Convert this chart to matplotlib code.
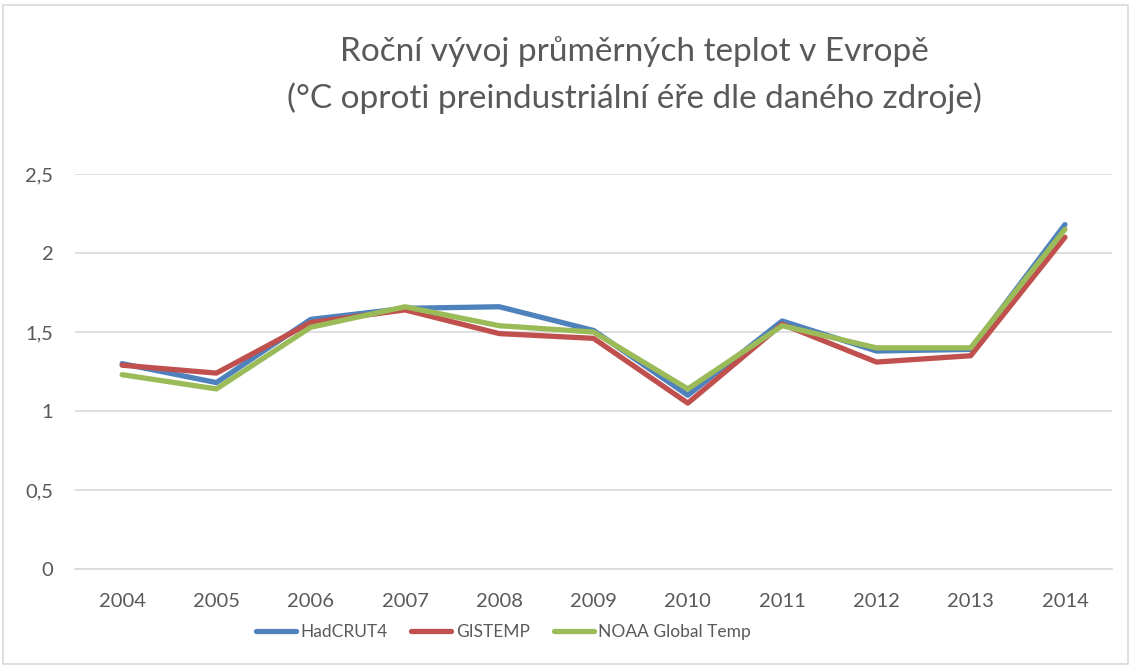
import matplotlib.pyplot as plt
from matplotlib.ticker import FuncFormatter
from matplotlib.patches import Rectangle
import numpy as np

plt.rcParams['font.family'] = ['Lato', 'DejaVu Sans']

years = ['2004', '2005', '2006', '2007', '2008', '2009', '2010', '2011', '2012', '2013', '2014']
hadcrut4 = [1.30, 1.18, 1.58, 1.65, 1.66, 1.51, 1.10, 1.57, 1.38, 1.39, 2.18]
gistemp = [1.29, 1.24, 1.56, 1.64, 1.49, 1.46, 1.05, 1.55, 1.31, 1.35, 2.10]
noaa = [1.23, 1.14, 1.53, 1.66, 1.54, 1.50, 1.14, 1.54, 1.40, 1.40, 2.15]

x = np.arange(len(years))
grey = '#595959'

fig = plt.figure(figsize=(11.31, 6.66), dpi=100)
ax = fig.add_axes([0.0663, 0.1456, 0.917, 0.5931])

ax.plot(x, hadcrut4, color='#4F81BD', lw=3.8, solid_capstyle='round', label='HadCRUT4')
ax.plot(x, gistemp, color='#C0504D', lw=3.8, solid_capstyle='round', label='GISTEMP')
ax.plot(x, noaa, color='#9BBB59', lw=3.8, solid_capstyle='round', label='NOAA Global Temp')

ax.set_xlim(-0.5, len(years) - 0.5)
ax.set_ylim(0, 2.5)
ax.set_yticks(np.arange(0, 2.51, 0.5))
ax.yaxis.set_major_formatter(FuncFormatter(lambda v, p: ('%g' % v).replace('.', ',')))
ax.set_xticks(x)
ax.set_xticklabels(years)
ax.grid(axis='y', color='#d9d9d9', lw=1.2)
ax.set_axisbelow(True)
for s in ['top', 'right', 'left']:
    ax.spines[s].set_visible(False)
ax.spines['bottom'].set_color('#d9d9d9')
ax.spines['bottom'].set_linewidth(1.2)
ax.tick_params(length=0, labelsize=14.5, labelcolor=grey)
ax.tick_params(axis='x', pad=17)
ax.tick_params(axis='y', pad=15.5)

fig.text(0.561, 0.922, 'Roční vývoj průměrných teplot v Evropě', ha='center', va='center',
         fontsize=24, color=grey)
fig.text(0.561, 0.853, '(°C oproti preindustriální éře dle daného zdroje)', ha='center', va='center',
         fontsize=24, color=grey)

# legend below the plot, slightly left of centre as in the original
leg = ax.legend(loc='center', bbox_to_anchor=(0.413, -0.16), ncol=3, frameon=False,
                fontsize=12.5, handlelength=2.3, handletextpad=0.25, columnspacing=1.4)
for t in leg.get_texts():
    t.set_color(grey)

fig.patches.append(Rectangle((0.003, 0.003), 0.994, 0.99, transform=fig.transFigure,
                             fill=False, edgecolor='#d9d9d9', lw=1.2))

fig.savefig('out.png', dpi=100)
